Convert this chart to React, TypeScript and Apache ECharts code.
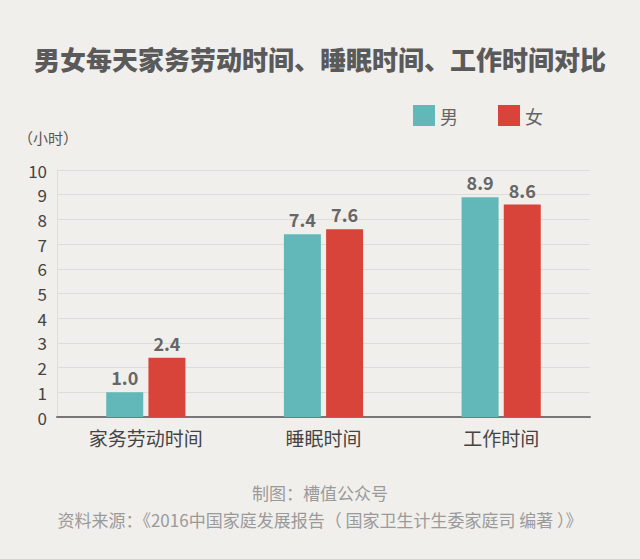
import React, { useEffect, useRef } from "react";
import * as echarts from "echarts";

const categories = ["家务劳动时间", "睡眠时间", "工作时间"];
const maleValues = [1.0, 7.4, 8.9];
const femaleValues = [2.4, 7.6, 8.6];
const seriesNames = ["男", "女"];
const yTicks = { min: 0, max: 10, interval: 1 };

const FONT = "'Noto Sans CJK SC', 'Noto Sans', sans-serif";

export default function App() {
  const ref = useRef<HTMLDivElement>(null);
  useEffect(() => {
    const chart = echarts.init(ref.current!, null, { renderer: "svg" });
    const labelStyle = {
      show: true,
      position: "top",
      distance: 6,
      color: "#666",
      fontSize: 18,
      fontWeight: "bold",
      fontFamily: FONT,
      formatter: (p: any) => Number(p.value).toFixed(1),
    };
    chart.setOption({
      animation: false,
      backgroundColor: "#f1efec",
      title: {
        text: "男女每天家务劳动时间、睡眠时间、工作时间对比",
        left: "center",
        top: 40,
        textStyle: { color: "#5a5a5a", fontSize: 26, fontWeight: 900, fontFamily: FONT },
      },
      legend: {
        data: seriesNames,
        top: 100,
        left: 408,
        itemWidth: 22,
        itemHeight: 21,
        itemGap: 40,
        textStyle: { color: "#666", fontSize: 18, fontFamily: FONT },
        icon: "rect",
      },
      graphic: [
        {
          type: "text",
          left: 18,
          top: 130,
          style: { text: "（小时）", fill: "#555", fontSize: 15, fontFamily: FONT },
        },
        {
          type: "text",
          left: "center",
          top: 484,
          style: { text: "制图：槽值公众号", fill: "#9a9a9a", fontSize: 17, fontFamily: FONT },
        },
        {
          type: "text",
          left: "center",
          top: 511,
          style: {
            text: "资料来源：《2016中国家庭发展报告（ 国家卫生计生委家庭司 编著 ）》",
            fill: "#9a9a9a",
            fontSize: 17,
            fontFamily: FONT,
          },
        },
      ],
      grid: { left: 57, right: 50, top: 170, bottom: 142, containLabel: false },
      xAxis: {
        type: "category",
        data: categories,
        axisLine: { show: true, lineStyle: { color: "#777", width: 2 } },
        axisTick: { show: false },
        axisLabel: { color: "#444", fontSize: 19, margin: 11, fontFamily: FONT },
      },
      yAxis: {
        type: "value",
        min: yTicks.min,
        max: yTicks.max,
        interval: yTicks.interval,
        axisLine: { show: true, lineStyle: { color: "#ddd", width: 1 } },
        axisTick: { show: false },
        axisLabel: { color: "#444", fontSize: 17, margin: 10, fontFamily: FONT },
        splitLine: { lineStyle: { color: "#dcdcdc", width: 1 } },
      },
      series: [
        {
          name: seriesNames[0],
          type: "bar",
          data: maleValues,
          barWidth: 37,
          barGap: "14%",
          itemStyle: { color: "#62b8b8" },
          label: labelStyle,
        },
        {
          name: seriesNames[1],
          type: "bar",
          data: femaleValues,
          barWidth: 37,
          itemStyle: { color: "#d9443a" },
          label: labelStyle,
        },
      ],
    });
    return () => chart.dispose();
  }, []);
  return (
    <div
      ref={ref}
      style={{ position: "absolute", left: 0, top: 0, width: 640, height: 559 }}
    />
  );
}
